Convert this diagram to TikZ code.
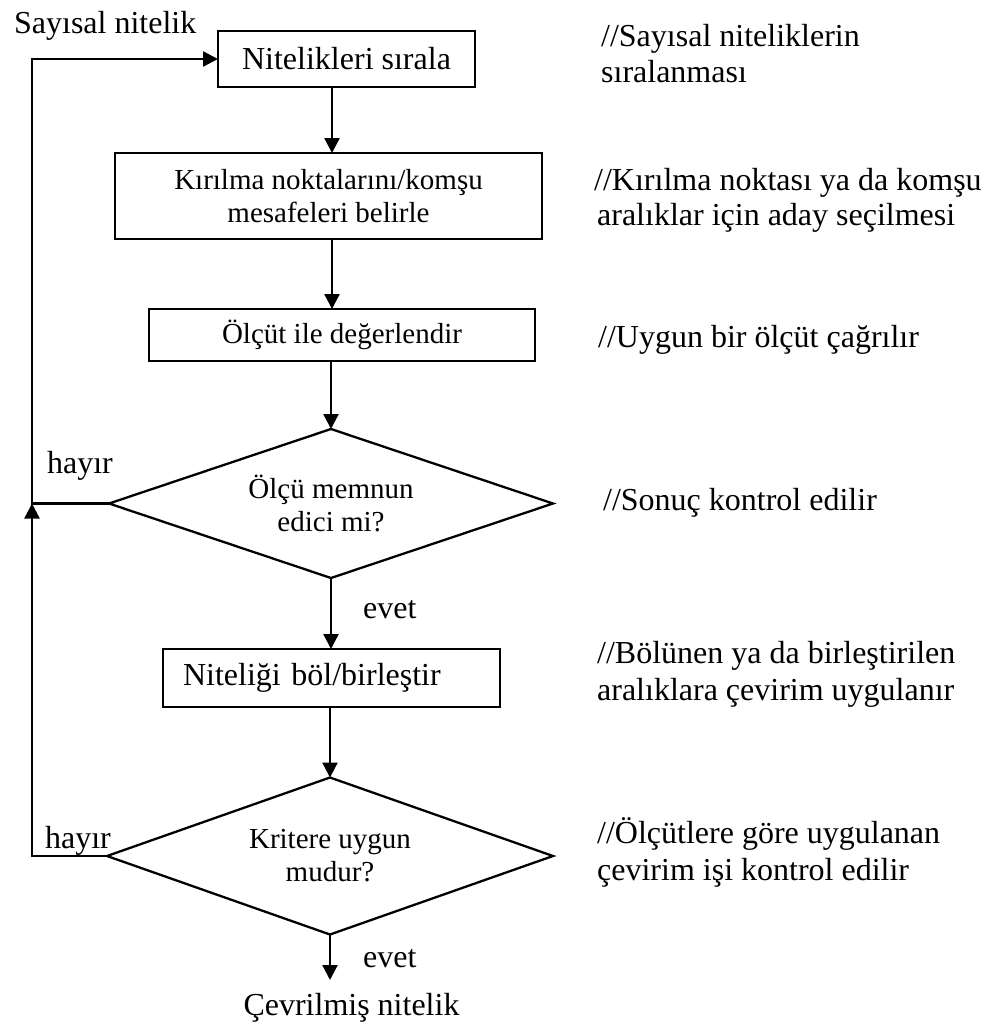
\documentclass[tikz,border=0pt]{standalone}
\usepackage{fontspec}
\setmainfont{Liberation Serif}
\usetikzlibrary{arrows.meta,shapes.geometric}
\begin{document}
\begin{tikzpicture}[x=1pt,y=-1pt,line width=2.3pt,
  bigtxt/.style={font=\fontsize{32}{36}\selectfont},
  boxtxt/.style={font=\fontsize{29}{33}\selectfont},
  stepbox/.style={draw, rectangle, inner sep=0pt, outer sep=0pt, align=center},
  decision/.style={draw, diamond, aspect=3, inner sep=0pt, outer sep=0pt, align=center, boxtxt},
  note/.style={bigtxt, inner sep=0pt, anchor=base west},
  flowarrow/.style={-{Triangle[length=15pt,width=15pt]}}]

\fill[white] (0,0) rectangle (990,1023);
\useasboundingbox (0,0) rectangle (990,1023);

% reference columns for the spine and the return loop
\coordinate (sp) at (332,0);
\coordinate (lp) at (32,0);

% input label
\node[note] (src) at (13,33) {Sayısal nitelik};

% process steps and decisions
\node[stepbox, bigtxt, minimum width=257pt, minimum height=56pt] (b1) at (346.5,59) {Nitelikleri sırala};
\node[stepbox, boxtxt, minimum width=427pt, minimum height=86pt] (b2) at (328.5,196) {Kırılma noktalarını/komşu\\mesafeleri belirle};
\node[stepbox, boxtxt, minimum width=386pt, minimum height=52pt] (b3) at (342,335) {Ölçüt ile değerlendir};
\node[decision, minimum width=444pt, minimum height=149pt] (d1) at (331,503.5) {Ölçü memnun\\edici mi?};
\node[stepbox, bigtxt, inner xsep=20pt, text width=297pt, align=left, minimum height=58pt] (b4) at (331.5,678) {Niteliği böl/birleştir};
\node[decision, minimum width=446pt, minimum height=157pt] (d2) at (330,856) {Kritere uygun\\mudur?};
\coordinate (out) at (330,980);
\node[bigtxt, inner sep=0pt, anchor=base] (res) at (351.5,1015) {Çevrilmiş nitelik};

% main flow
\draw[flowarrow] (b1.south -| sp) -- (b2.north -| sp);
\draw[flowarrow] (b2.south -| sp) -- (b3.north -| sp);
\draw[flowarrow] (b3.south -| d1.north) -- (d1.north);
\draw[flowarrow] (d1.south) -- (d1.south |- b4.north);
\draw[flowarrow] (b4.south -| d2.north) -- (d2.north);
\draw[flowarrow] (d2.south) -- (out);

% return loop
\draw[flowarrow] (d2.west) -- (d2.west -| lp) -- (d1.west -| lp);
\draw[flowarrow] (d1.west) -- (d1.west -| lp) -- (b1.west -| lp) -- (b1.west);

% branch labels
\node[bigtxt, inner sep=0pt, anchor=base east] (no1) at (114,473) {hayır};
\node[bigtxt, inner sep=0pt, anchor=base east] (no2) at (112,848) {hayır};
\node[note] (yes1) at (362,618) {evet};
\node[note] (yes2) at (362,967) {evet};

% side remarks
\node[note] (r1a) at (600,46) {//Sayısal niteliklerin};
\node[note] (r1b) at (600,82) {sıralanması};
\node[note] (r2a) at (593,190) {//Kırılma noktası ya da komşu};
\node[note] (r2b) at (596,225) {aralıklar için aday seçilmesi};
\node[note] (r3) at (597,347) {//Uygun bir ölçüt çağrılır};
\node[note] (r4) at (602,510) {//Sonuç kontrol edilir};
\node[note] (r5a) at (596,663) {//Bölünen ya da birleştirilen};
\node[note] (r5b) at (596,700) {aralıklara çevirim uygulanır};
\node[note] (r6a) at (596,843) {//Ölçütlere göre uygulanan};
\node[note] (r6b) at (596,880) {çevirim işi kontrol edilir};
\end{tikzpicture}
\end{document}
